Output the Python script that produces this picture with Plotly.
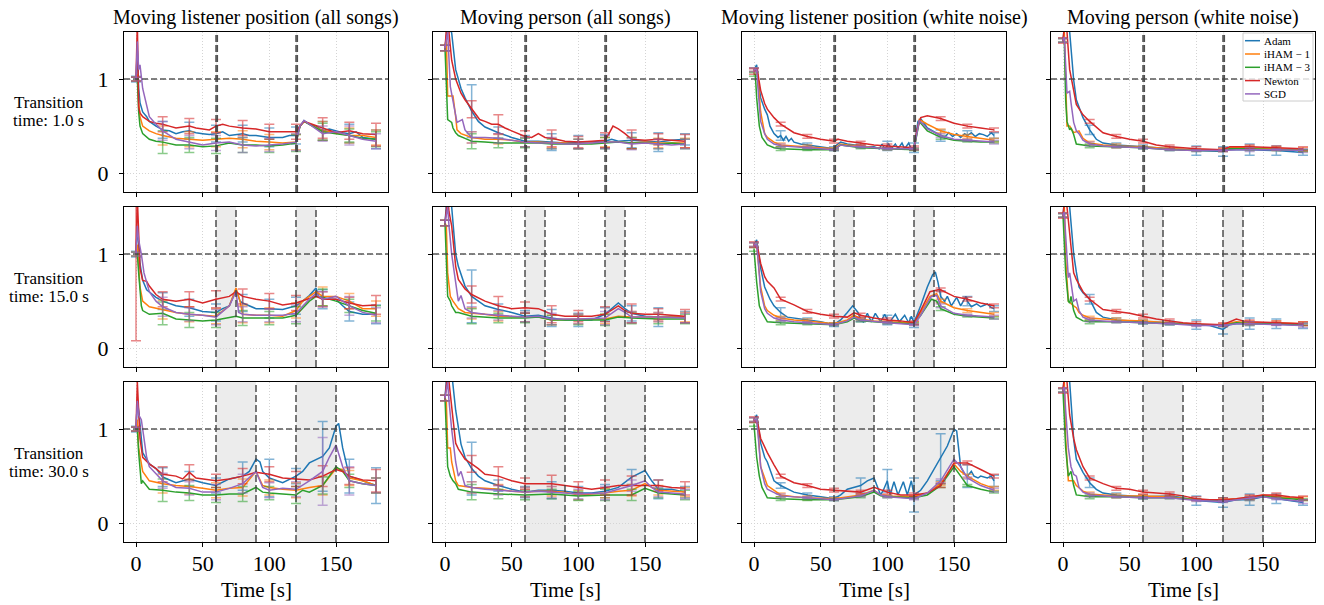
import numpy as np
import plotly.graph_objects as go

# ---------------- data ----------------
METHODS = ["Adam", "iHAM \u2212 1", "iHAM \u2212 3", "Newton", "SGD"]
COLORS = ["#1f77b4", "#ff7f0e", "#2ca02c", "#d62728", "#9467bd"]
ERR_COLORS = ["rgba(31,119,180,0.55)", "rgba(255,127,14,0.55)", "rgba(44,160,44,0.55)",
              "rgba(214,39,40,0.55)", "rgba(148,103,189,0.55)"]
COL_TITLES = ["Moving listener position (all songs)", "Moving person (all songs)",
              "Moving listener position (white noise)", "Moving person (white noise)"]
ROW_LABELS = [("Transition", "time: 1.0 s"), ("Transition", "time: 15.0 s"), ("Transition", "time: 30.0 s")]
TRANSITION = [1.0, 15.0, 30.0]
CHANGE_TIMES = [60, 120]
ERR_TIMES = [0, 20, 40, 60, 80, 100, 120, 140, 160, 180]
X_TICKS = [0, 50, 100, 150]
Y_TICKS = [0, 1]

# (time [s], value) pairs per method, one dict per panel
LP_SONGS_1 = {
    "Adam": [(0,1.0),(1,1.3),(2,0.9),(3,0.75),(5,0.65),(8,0.6),(10,0.55),(15,0.5),(20,0.46),(25,0.45),(30,0.42),(35,0.44),(40,0.45),(45,0.43),(50,0.42),(55,0.41),(60,0.42),(65,0.44),(70,0.4),(75,0.41),(80,0.42),(85,0.4),(90,0.4),(95,0.39),(100,0.38),(110,0.38),(115,0.4),(120,0.4),(123,0.5),(126,0.56),(130,0.52),(135,0.5),(140,0.45),(145,0.47),(150,0.45),(155,0.43),(160,0.42),(165,0.44),(170,0.38),(175,0.37),(180,0.36)],
    "iHAM1": [(0,1.0),(1,1.05),(2,0.75),(3,0.6),(5,0.5),(8,0.47),(10,0.45),(15,0.42),(20,0.4),(30,0.37),(40,0.36),(50,0.35),(60,0.36),(70,0.37),(80,0.36),(90,0.34),(100,0.33),(110,0.32),(120,0.33),(123,0.5),(126,0.55),(130,0.52),(140,0.45),(150,0.43),(160,0.4),(170,0.4),(180,0.38)],
    "iHAM3": [(0,1.0),(1,1.0),(2,0.65),(3,0.5),(5,0.42),(8,0.38),(10,0.36),(15,0.34),(20,0.33),(30,0.3),(40,0.3),(50,0.28),(60,0.29),(70,0.32),(80,0.3),(90,0.3),(100,0.29),(110,0.3),(120,0.32),(123,0.5),(126,0.55),(130,0.52),(140,0.44),(150,0.42),(160,0.4),(170,0.37),(180,0.36)],
    "Newton": [(0,1.0),(1,1.6),(2,0.7),(3,0.64),(5,0.6),(8,0.57),(10,0.55),(15,0.53),(20,0.52),(25,0.5),(30,0.48),(35,0.49),(40,0.5),(45,0.48),(50,0.47),(55,0.46),(60,0.5),(65,0.52),(70,0.5),(75,0.49),(80,0.48),(90,0.47),(100,0.44),(110,0.44),(120,0.44),(123,0.5),(126,0.55),(130,0.53),(140,0.48),(145,0.46),(150,0.43),(160,0.45),(170,0.42),(180,0.41)],
    "SGD": [(0,1.0),(1,1.4),(2,1.1),(3,1.15),(5,0.9),(8,0.7),(10,0.6),(15,0.52),(20,0.45),(30,0.36),(40,0.33),(50,0.3),(60,0.32),(70,0.33),(80,0.3),(90,0.29),(100,0.3),(110,0.31),(120,0.33),(123,0.5),(126,0.56),(130,0.52),(140,0.42),(150,0.44),(160,0.4),(170,0.36),(180,0.34)],
}
MP_SONGS_1 = {
    "Adam": [(0,1.33),(2,1.6),(5,1.49),(8,1.1),(12,0.9),(15,0.8),(20,0.66),(25,0.55),(30,0.49),(40,0.43),(50,0.38),(60,0.34),(70,0.34),(80,0.33),(90,0.32),(100,0.33),(110,0.33),(120,0.34),(125,0.36),(130,0.34),(140,0.35),(150,0.34),(160,0.33),(170,0.35),(180,0.36)],
    "iHAM1": [(0,1.33),(1,1.45),(2,0.82),(6,0.82),(8,0.6),(9,0.46),(12,0.42),(20,0.38),(30,0.36),(40,0.36),(50,0.35),(60,0.33),(70,0.33),(80,0.32),(90,0.32),(100,0.31),(110,0.32),(120,0.33),(130,0.33),(140,0.32),(150,0.33),(160,0.32),(170,0.32),(180,0.32)],
    "iHAM3": [(0,1.33),(1,0.92),(2,0.57),(5,0.54),(6,0.48),(8,0.43),(10,0.4),(15,0.37),(20,0.34),(30,0.33),(40,0.32),(50,0.32),(60,0.32),(70,0.32),(80,0.31),(90,0.31),(100,0.31),(110,0.31),(120,0.32),(130,0.33),(140,0.32),(150,0.32),(160,0.31),(170,0.32),(180,0.31)],
    "Newton": [(0,1.33),(2,1.7),(3,1.49),(5,1.2),(8,1.0),(12,0.85),(15,0.78),(20,0.68),(26,0.57),(30,0.55),(35,0.52),(40,0.52),(45,0.48),(50,0.45),(55,0.42),(60,0.39),(65,0.38),(70,0.42),(75,0.38),(80,0.37),(90,0.34),(100,0.33),(110,0.34),(120,0.35),(123,0.42),(126,0.5),(130,0.47),(135,0.42),(140,0.36),(150,0.35),(160,0.36),(170,0.35),(180,0.34)],
    "SGD": [(0,1.33),(2,1.5),(4,0.92),(7,0.7),(9,0.54),(13,0.57),(15,0.46),(20,0.38),(30,0.38),(40,0.37),(50,0.35),(60,0.33),(70,0.32),(80,0.32),(90,0.31),(100,0.31),(110,0.32),(120,0.33),(130,0.33),(140,0.31),(150,0.32),(160,0.31),(170,0.3),(180,0.31)],
}
LP_WN_1 = {
    "Adam": [(0,1.1),(1,1.12),(2,1.15),(3,1.0),(5,0.8),(8,0.68),(10,0.62),(12,0.5),(15,0.42),(18,0.38),(20,0.4),(22,0.35),(24,0.39),(26,0.34),(28,0.37),(30,0.33),(35,0.31),(40,0.3),(45,0.29),(50,0.28),(55,0.27),(60,0.26),(62,0.3),(65,0.33),(70,0.31),(75,0.3),(80,0.29),(85,0.28),(90,0.28),(94,0.26),(96,0.31),(98,0.26),(100,0.29),(101,0.31),(103,0.26),(106,0.31),(108,0.26),(111,0.32),(113,0.26),(116,0.32),(118,0.26),(120,0.27),(123,0.55),(125,0.58),(128,0.52),(130,0.48),(135,0.44),(138,0.42),(140,0.4),(143,0.38),(146,0.43),(149,0.39),(152,0.42),(155,0.38),(158,0.42),(160,0.4),(163,0.43),(166,0.39),(169,0.42),(172,0.41),(175,0.39),(178,0.43),(180,0.4)],
    "iHAM1": [(0,1.1),(2,1.1),(3,1.0),(5,0.65),(8,0.42),(10,0.38),(15,0.33),(20,0.3),(30,0.29),(40,0.28),(50,0.27),(60,0.26),(65,0.31),(70,0.3),(80,0.29),(90,0.27),(100,0.26),(110,0.26),(120,0.26),(124,0.57),(130,0.52),(140,0.45),(150,0.41),(160,0.39),(170,0.37),(180,0.35)],
    "iHAM3": [(0,1.05),(1,1.05),(2,0.8),(4,0.5),(6,0.38),(10,0.3),(15,0.27),(20,0.26),(40,0.25),(60,0.25),(65,0.3),(70,0.29),(80,0.27),(100,0.26),(120,0.25),(124,0.55),(130,0.45),(140,0.38),(150,0.35),(160,0.34),(170,0.33),(180,0.33)],
    "Newton": [(0,1.08),(2,1.1),(3,1.05),(5,0.88),(8,0.74),(10,0.68),(15,0.59),(20,0.52),(30,0.43),(40,0.39),(50,0.36),(60,0.34),(63,0.36),(70,0.34),(80,0.32),(90,0.3),(100,0.29),(110,0.28),(120,0.27),(122,0.45),(125,0.59),(130,0.61),(140,0.58),(150,0.53),(160,0.5),(170,0.48),(180,0.46)],
    "SGD": [(0,1.1),(2,1.1),(3,0.9),(5,0.55),(8,0.42),(10,0.36),(15,0.31),(20,0.29),(40,0.27),(60,0.25),(65,0.3),(70,0.29),(80,0.28),(100,0.26),(120,0.26),(124,0.56),(130,0.47),(140,0.4),(150,0.36),(160,0.35),(170,0.34),(180,0.33)],
}
MP_WN_1 = {
    "Adam": [(0,1.41),(2,1.7),(5,1.5),(8,0.99),(10,0.78),(15,0.59),(20,0.46),(25,0.36),(30,0.32),(40,0.3),(60,0.28),(80,0.26),(100,0.24),(120,0.23),(125,0.25),(140,0.25),(160,0.24),(180,0.22)],
    "iHAM1": [(0,1.41),(1,1.5),(2,1.0),(3,0.5),(5,0.5),(8,0.43),(12,0.45),(15,0.37),(20,0.32),(30,0.3),(40,0.29),(60,0.28),(80,0.26),(100,0.25),(120,0.25),(125,0.27),(140,0.27),(160,0.26),(180,0.25)],
    "iHAM3": [(0,1.41),(1,1.4),(2,0.78),(3,0.55),(5,0.46),(6,0.48),(8,0.41),(10,0.31),(20,0.29),(40,0.28),(60,0.27),(80,0.25),(100,0.24),(120,0.24),(125,0.26),(140,0.26),(160,0.25),(180,0.24)],
    "Newton": [(0,1.41),(2,1.7),(3,1.5),(5,1.1),(8,0.88),(10,0.73),(15,0.62),(20,0.55),(30,0.43),(40,0.39),(50,0.36),(60,0.34),(70,0.3),(80,0.28),(90,0.27),(100,0.26),(120,0.25),(125,0.28),(140,0.28),(160,0.27),(180,0.26)],
    "SGD": [(0,1.41),(1,1.45),(3,0.85),(5,0.87),(6,0.75),(8,0.54),(10,0.45),(12,0.42),(15,0.35),(20,0.31),(30,0.29),(40,0.28),(60,0.27),(80,0.25),(100,0.24),(120,0.24),(130,0.25),(140,0.25),(160,0.25),(180,0.24)],
}
LP_SONGS_15 = {
    "Adam": [(0,1.0),(1,1.3),(3,0.9),(5,0.72),(8,0.62),(10,0.6),(15,0.54),(20,0.5),(30,0.45),(40,0.43),(50,0.39),(60,0.38),(65,0.42),(70,0.45),(75,0.62),(78,0.5),(80,0.48),(90,0.42),(100,0.42),(110,0.41),(120,0.45),(125,0.5),(130,0.56),(135,0.64),(137,0.55),(140,0.52),(150,0.52),(155,0.45),(160,0.39),(170,0.36),(180,0.36)],
    "iHAM1": [(0,1.0),(1,1.1),(3,0.65),(5,0.5),(10,0.44),(20,0.41),(30,0.38),(40,0.36),(50,0.35),(60,0.34),(70,0.45),(75,0.64),(78,0.5),(80,0.36),(90,0.35),(100,0.35),(110,0.34),(120,0.4),(125,0.5),(135,0.6),(140,0.55),(150,0.55),(160,0.5),(170,0.42),(180,0.42)],
    "iHAM3": [(0,1.0),(1,1.0),(2,0.8),(4,0.45),(5,0.4),(10,0.36),(20,0.37),(30,0.31),(40,0.3),(50,0.29),(60,0.3),(70,0.33),(75,0.34),(80,0.32),(90,0.32),(100,0.32),(110,0.32),(120,0.35),(130,0.5),(135,0.55),(140,0.54),(150,0.5),(160,0.45),(170,0.4),(180,0.37)],
    "Newton": [(0,1.0),(1,1.6),(3,0.85),(5,0.72),(8,0.71),(10,0.66),(15,0.57),(20,0.52),(30,0.5),(40,0.52),(50,0.48),(60,0.52),(70,0.55),(75,0.6),(80,0.55),(90,0.52),(100,0.5),(110,0.46),(120,0.48),(130,0.53),(135,0.55),(140,0.52),(150,0.52),(160,0.48),(170,0.45),(180,0.46)],
    "SGD": [(0,1.0),(1,1.3),(2,1.15),(4,1.0),(6,0.8),(10,0.6),(15,0.5),(20,0.44),(30,0.38),(40,0.36),(50,0.35),(60,0.33),(70,0.45),(75,0.6),(77,0.38),(80,0.36),(90,0.35),(100,0.35),(110,0.35),(120,0.37),(130,0.52),(135,0.58),(140,0.52),(150,0.55),(160,0.45),(170,0.38),(180,0.35)],
}
MP_SONGS_15 = {
    "Adam": [(0,1.33),(2,1.7),(5,1.5),(8,1.0),(10,0.87),(15,0.66),(20,0.55),(30,0.45),(40,0.41),(50,0.38),(60,0.34),(70,0.35),(80,0.32),(90,0.3),(100,0.3),(110,0.3),(120,0.36),(125,0.42),(130,0.48),(135,0.42),(140,0.37),(150,0.34),(160,0.33),(170,0.34),(180,0.33)],
    "iHAM1": [(0,1.33),(1,1.3),(2,0.8),(4,0.55),(6,0.5),(10,0.42),(15,0.38),(20,0.37),(30,0.36),(40,0.34),(60,0.33),(70,0.33),(80,0.3),(100,0.31),(120,0.31),(130,0.34),(140,0.33),(160,0.33),(180,0.33)],
    "iHAM3": [(0,1.33),(1,1.0),(2,0.55),(4,0.5),(5,0.45),(8,0.38),(10,0.38),(20,0.34),(40,0.32),(60,0.32),(70,0.33),(80,0.3),(100,0.3),(120,0.3),(130,0.33),(140,0.32),(160,0.31),(180,0.31)],
    "Newton": [(0,1.33),(2,1.6),(3,1.45),(5,1.3),(8,0.87),(10,0.73),(15,0.63),(20,0.57),(30,0.5),(40,0.45),(50,0.42),(60,0.43),(70,0.42),(80,0.36),(90,0.34),(100,0.34),(110,0.34),(120,0.36),(130,0.45),(135,0.4),(140,0.37),(150,0.36),(160,0.36),(170,0.35),(180,0.34)],
    "SGD": [(0,1.33),(2,1.5),(3,1.3),(5,1.0),(8,0.7),(10,0.5),(12,0.56),(15,0.42),(20,0.38),(30,0.36),(40,0.35),(60,0.33),(70,0.34),(80,0.31),(100,0.31),(120,0.32),(130,0.42),(135,0.38),(140,0.33),(160,0.33),(180,0.32)],
}
LP_WN_15 = {
    "Adam": [(0,1.1),(2,1.15),(3,1.05),(5,0.85),(8,0.65),(10,0.58),(12,0.52),(15,0.45),(20,0.38),(25,0.33),(30,0.32),(40,0.3),(50,0.28),(60,0.25),(65,0.3),(70,0.38),(74,0.45),(78,0.38),(80,0.3),(82,0.28),(85,0.37),(88,0.28),(91,0.37),(95,0.28),(98,0.36),(100,0.3),(102,0.28),(106,0.36),(109,0.28),(113,0.35),(116,0.27),(118,0.34),(120,0.27),(125,0.45),(130,0.65),(134,0.78),(136,0.81),(138,0.7),(140,0.55),(143,0.5),(145,0.55),(148,0.45),(152,0.54),(155,0.45),(159,0.55),(160,0.5),(163,0.44),(167,0.47),(170,0.44),(175,0.47),(178,0.43),(180,0.42)],
    "iHAM1": [(0,1.1),(2,1.1),(3,0.95),(5,0.65),(8,0.45),(10,0.4),(15,0.35),(20,0.32),(30,0.3),(40,0.29),(60,0.26),(70,0.3),(75,0.35),(80,0.31),(90,0.29),(100,0.28),(120,0.27),(125,0.38),(132,0.55),(137,0.58),(140,0.5),(150,0.43),(160,0.4),(170,0.38),(180,0.36)],
    "iHAM3": [(0,1.05),(2,0.7),(4,0.45),(6,0.38),(10,0.28),(20,0.27),(40,0.26),(60,0.25),(70,0.28),(75,0.32),(80,0.29),(100,0.27),(120,0.26),(125,0.35),(133,0.52),(137,0.5),(140,0.42),(150,0.36),(160,0.34),(180,0.32)],
    "Newton": [(0,1.1),(3,1.05),(5,0.9),(8,0.76),(10,0.71),(15,0.64),(20,0.52),(30,0.46),(40,0.39),(50,0.36),(60,0.34),(70,0.33),(75,0.375),(80,0.35),(90,0.32),(100,0.3),(110,0.29),(120,0.27),(125,0.4),(132,0.6),(138,0.62),(140,0.62),(150,0.55),(160,0.52),(170,0.48),(180,0.45)],
    "SGD": [(0,1.1),(2,1.1),(3,0.95),(5,0.6),(8,0.42),(10,0.37),(15,0.32),(20,0.3),(30,0.28),(40,0.27),(60,0.25),(70,0.29),(75,0.33),(80,0.3),(100,0.27),(120,0.25),(125,0.35),(133,0.55),(137,0.56),(140,0.45),(150,0.37),(160,0.35),(180,0.33)],
}
MP_WN_15 = {
    "Adam": [(0,1.41),(2,1.7),(5,1.5),(8,1.0),(10,0.81),(12,0.65),(15,0.59),(20,0.52),(25,0.38),(30,0.33),(40,0.3),(60,0.28),(80,0.27),(100,0.25),(110,0.24),(120,0.2),(125,0.25),(130,0.26),(140,0.26),(160,0.26),(180,0.24)],
    "iHAM1": [(0,1.41),(1,1.5),(2,0.95),(4,0.5),(8,0.45),(10,0.43),(12,0.38),(15,0.35),(20,0.32),(30,0.31),(40,0.3),(60,0.29),(80,0.27),(100,0.25),(120,0.25),(130,0.28),(140,0.27),(160,0.27),(180,0.26)],
    "iHAM3": [(0,1.41),(1,1.1),(2,0.8),(4,0.5),(5,0.48),(6,0.55),(8,0.4),(10,0.33),(15,0.29),(20,0.28),(40,0.28),(60,0.27),(80,0.26),(100,0.25),(120,0.24),(130,0.27),(140,0.26),(160,0.26),(180,0.25)],
    "Newton": [(0,1.41),(2,1.7),(3,1.5),(5,1.2),(8,0.8),(10,0.73),(15,0.6),(20,0.52),(30,0.41),(40,0.39),(50,0.37),(60,0.34),(70,0.31),(80,0.29),(90,0.27),(100,0.26),(120,0.25),(130,0.31),(135,0.29),(140,0.28),(160,0.27),(180,0.26)],
    "SGD": [(0,1.41),(1,1.45),(2,1.2),(4,0.75),(5,0.8),(7,0.62),(8,0.5),(10,0.52),(12,0.4),(15,0.33),(20,0.3),(30,0.29),(40,0.28),(60,0.27),(80,0.26),(100,0.24),(120,0.24),(130,0.26),(140,0.26),(160,0.25),(180,0.24)],
}
LP_SONGS_30 = {
    "Adam": [(0,1.0),(1,1.3),(2,1.2),(5,0.75),(10,0.63),(15,0.58),(20,0.49),(30,0.43),(40,0.47),(50,0.43),(60,0.4),(70,0.47),(80,0.5),(85,0.55),(90,0.68),(93,0.65),(95,0.55),(100,0.48),(110,0.43),(120,0.5),(125,0.55),(130,0.64),(140,0.71),(145,0.8),(150,1.03),(152,1.06),(155,0.8),(160,0.5),(170,0.45),(180,0.4)],
    "iHAM1": [(0,1.0),(1,1.1),(2,0.8),(5,0.55),(10,0.45),(20,0.42),(30,0.4),(40,0.39),(50,0.37),(60,0.35),(70,0.37),(80,0.38),(90,0.55),(95,0.4),(100,0.38),(110,0.36),(120,0.35),(130,0.38),(140,0.4),(150,0.58),(155,0.57),(160,0.48),(170,0.45),(180,0.4)],
    "iHAM3": [(0,1.0),(1,1.0),(2,0.75),(4,0.42),(5,0.45),(10,0.36),(20,0.35),(30,0.33),(40,0.32),(50,0.3),(60,0.3),(70,0.31),(80,0.31),(90,0.38),(95,0.33),(100,0.32),(110,0.31),(120,0.3),(125,0.35),(130,0.33),(140,0.4),(150,0.6),(155,0.55),(160,0.45),(170,0.42),(180,0.4)],
    "Newton": [(0,1.0),(1,1.5),(3,0.9),(5,0.7),(10,0.63),(15,0.58),(20,0.52),(30,0.5),(35,0.47),(40,0.54),(45,0.48),(50,0.47),(60,0.45),(70,0.47),(80,0.5),(90,0.54),(100,0.52),(110,0.48),(120,0.47),(130,0.46),(140,0.5),(150,0.57),(155,0.55),(160,0.5),(170,0.46),(180,0.45)],
    "SGD": [(0,1.0),(1,1.3),(2,1.15),(4,1.1),(6,0.9),(8,0.7),(10,0.6),(15,0.52),(20,0.45),(30,0.38),(40,0.37),(50,0.33),(60,0.33),(70,0.37),(80,0.42),(90,0.55),(95,0.38),(100,0.35),(110,0.37),(120,0.36),(130,0.45),(140,0.55),(145,0.7),(150,0.83),(155,0.6),(160,0.45),(170,0.42),(180,0.4)],
}
MP_SONGS_30 = {
    "Adam": [(0,1.33),(2,1.7),(5,1.6),(8,1.2),(10,1.02),(12,0.84),(15,0.7),(20,0.58),(25,0.5),(30,0.45),(40,0.4),(50,0.36),(60,0.33),(70,0.35),(80,0.35),(90,0.34),(100,0.32),(110,0.32),(120,0.34),(130,0.38),(140,0.49),(150,0.56),(155,0.45),(160,0.36),(170,0.36),(180,0.33)],
    "iHAM1": [(0,1.33),(1,1.3),(2,0.8),(4,0.8),(5,0.65),(8,0.45),(10,0.4),(20,0.38),(30,0.37),(40,0.36),(50,0.34),(60,0.33),(70,0.34),(80,0.34),(90,0.33),(100,0.3),(120,0.32),(130,0.34),(140,0.35),(150,0.42),(155,0.38),(160,0.35),(180,0.33)],
    "iHAM3": [(0,1.33),(1,1.0),(2,0.6),(4,0.5),(6,0.45),(8,0.42),(10,0.36),(20,0.33),(30,0.32),(40,0.31),(60,0.3),(80,0.31),(100,0.29),(120,0.3),(140,0.3),(150,0.37),(160,0.32),(180,0.3)],
    "Newton": [(0,1.33),(2,1.6),(3,1.5),(5,1.25),(8,0.85),(10,0.79),(15,0.68),(20,0.63),(25,0.58),(30,0.52),(40,0.5),(50,0.45),(60,0.42),(70,0.42),(80,0.42),(90,0.4),(100,0.38),(110,0.36),(120,0.38),(130,0.4),(140,0.4),(150,0.4),(160,0.4),(170,0.38),(180,0.37)],
    "SGD": [(0,1.33),(2,1.5),(3,1.3),(5,1.0),(8,0.65),(10,0.5),(12,0.55),(15,0.4),(20,0.38),(30,0.36),(40,0.35),(60,0.33),(70,0.34),(80,0.33),(100,0.31),(120,0.32),(130,0.36),(140,0.4),(150,0.45),(155,0.38),(160,0.33),(180,0.31)],
}
LP_WN_30 = {
    "Adam": [(0,1.1),(2,1.15),(3,1.05),(5,0.85),(8,0.7),(10,0.65),(15,0.45),(20,0.4),(30,0.33),(40,0.3),(50,0.28),(60,0.26),(65,0.3),(70,0.36),(80,0.4),(85,0.45),(90,0.48),(93,0.38),(95,0.3),(97,0.35),(100,0.45),(102,0.3),(105,0.44),(108,0.3),(112,0.44),(115,0.3),(118,0.45),(120,0.3),(125,0.35),(130,0.45),(140,0.7),(145,0.82),(150,1.0),(152,0.98),(155,0.6),(158,0.52),(160,0.5),(163,0.55),(165,0.5),(168,0.48),(170,0.5),(175,0.48),(178,0.5),(180,0.45)],
    "iHAM1": [(0,1.1),(2,1.1),(3,1.0),(5,0.6),(10,0.4),(15,0.35),(20,0.3),(30,0.28),(40,0.27),(60,0.26),(70,0.28),(80,0.3),(90,0.35),(95,0.3),(100,0.29),(120,0.28),(130,0.32),(140,0.42),(150,0.63),(155,0.55),(160,0.5),(170,0.42),(180,0.37)],
    "iHAM3": [(0,1.05),(2,0.7),(4,0.5),(6,0.38),(10,0.27),(20,0.26),(40,0.25),(60,0.25),(80,0.28),(90,0.33),(95,0.29),(100,0.28),(120,0.27),(130,0.3),(140,0.4),(150,0.6),(155,0.5),(160,0.4),(170,0.36),(180,0.33)],
    "Newton": [(0,1.1),(3,1.05),(5,0.9),(10,0.75),(15,0.62),(20,0.5),(30,0.43),(40,0.4),(50,0.36),(60,0.35),(70,0.34),(80,0.33),(90,0.38),(100,0.33),(110,0.3),(120,0.3),(130,0.32),(140,0.4),(150,0.64),(160,0.64),(170,0.57),(180,0.5)],
    "SGD": [(0,1.1),(2,1.1),(3,0.95),(5,0.6),(8,0.42),(10,0.36),(20,0.29),(40,0.27),(60,0.25),(80,0.29),(90,0.35),(95,0.3),(100,0.28),(120,0.26),(130,0.32),(140,0.45),(150,0.68),(155,0.6),(160,0.48),(170,0.4),(180,0.35)],
}
MP_WN_30 = {
    "Adam": [(0,1.41),(2,1.7),(5,1.5),(8,0.89),(10,0.68),(15,0.54),(20,0.43),(25,0.36),(30,0.32),(40,0.3),(60,0.28),(80,0.29),(85,0.28),(90,0.27),(100,0.24),(120,0.22),(130,0.25),(140,0.25),(150,0.28),(160,0.26),(180,0.22)],
    "iHAM1": [(0,1.41),(1,1.5),(2,0.9),(4,0.45),(8,0.45),(10,0.4),(15,0.34),(20,0.31),(40,0.29),(60,0.29),(80,0.28),(100,0.25),(120,0.25),(130,0.26),(140,0.27),(150,0.3),(160,0.28),(180,0.26)],
    "iHAM3": [(0,1.41),(1,1.1),(2,0.8),(4,0.5),(6,0.55),(8,0.4),(10,0.3),(20,0.28),(40,0.28),(60,0.27),(80,0.27),(100,0.25),(120,0.24),(140,0.26),(150,0.29),(160,0.27),(180,0.25)],
    "Newton": [(0,1.41),(2,1.7),(3,1.5),(5,1.15),(8,0.9),(10,0.78),(15,0.6),(20,0.48),(30,0.42),(40,0.37),(50,0.36),(60,0.33),(70,0.32),(80,0.31),(90,0.29),(100,0.26),(110,0.25),(120,0.25),(130,0.26),(140,0.28),(150,0.3),(160,0.3),(170,0.28),(180,0.27)],
    "SGD": [(0,1.41),(1,1.45),(2,1.2),(4,0.8),(6,0.6),(8,0.52),(10,0.5),(12,0.38),(15,0.33),(20,0.3),(40,0.28),(60,0.27),(80,0.27),(100,0.24),(120,0.23),(140,0.26),(150,0.28),(160,0.26),(180,0.23)],
}

# error-bar half widths at ERR_TIMES
ERR_SONGS_LP = {
    "Adam":   [0.03,0.09,0.09,0.09,0.09,0.10,0.09,0.10,0.10,0.10],
    "iHAM1":  [0.02,0.10,0.08,0.08,0.09,0.08,0.08,0.10,0.08,0.08],
    "iHAM3":  [0.02,0.12,0.08,0.08,0.08,0.07,0.09,0.09,0.07,0.08],
    "Newton": [0.02,0.08,0.08,0.07,0.08,0.08,0.08,0.11,0.09,0.12],
    "SGD":    [0.02,0.10,0.07,0.08,0.08,0.07,0.09,0.08,0.10,0.08],
}
ERR_SONGS_MP = {
    "Adam":   [0.03,0.28,0.06,0.06,0.09,0.07,0.07,0.08,0.10,0.06],
    "iHAM1":  [0.03,0.06,0.05,0.05,0.05,0.05,0.05,0.06,0.05,0.05],
    "iHAM3":  [0.03,0.08,0.05,0.05,0.05,0.05,0.06,0.06,0.05,0.05],
    "Newton": [0.03,0.09,0.10,0.06,0.09,0.06,0.08,0.10,0.06,0.07],
    "SGD":    [0.03,0.06,0.05,0.05,0.06,0.05,0.07,0.06,0.05,0.05],
}
ERR_WN = {
    "Adam":   [0.02,0.05,0.02,0.02,0.02,0.05,0.05,0.06,0.05,0.03],
    "iHAM1":  [0.02,0.02,0.02,0.01,0.01,0.01,0.01,0.02,0.02,0.02],
    "iHAM3":  [0.02,0.02,0.01,0.01,0.01,0.01,0.01,0.02,0.01,0.01],
    "Newton": [0.03,0.02,0.02,0.02,0.02,0.02,0.02,0.02,0.02,0.02],
    "SGD":    [0.02,0.02,0.01,0.01,0.01,0.01,0.01,0.02,0.01,0.02],
}
ERR_SONGS_LP_15 = dict(ERR_SONGS_LP, Newton=[0.92,0.08,0.08,0.09,0.08,0.08,0.08,0.08,0.06,0.1])
ERR_SONGS_LP_30 = dict(ERR_SONGS_LP,
    Adam=[0.03,0.1,0.08,0.08,0.15,0.2,0.08,0.37,0.18,0.19],
    SGD=[0.02,0.08,0.07,0.08,0.1,0.08,0.08,0.36,0.15,0.08])
ERR_WN_30 = dict(ERR_WN, Adam=[0.02,0.03,0.02,0.02,0.08,0.12,0.18,0.25,0.12,0.06])

PANELS = [[LP_SONGS_1, MP_SONGS_1, LP_WN_1, MP_WN_1],
          [LP_SONGS_15, MP_SONGS_15, LP_WN_15, MP_WN_15],
          [LP_SONGS_30, MP_SONGS_30, LP_WN_30, MP_WN_30]]
ERRS = [[ERR_SONGS_LP, ERR_SONGS_MP, ERR_WN, ERR_WN],
        [ERR_SONGS_LP_15, ERR_SONGS_MP, ERR_WN, ERR_WN],
        [ERR_SONGS_LP_30, ERR_SONGS_MP, ERR_WN_30, ERR_WN]]
KEYS = ["Adam", "iHAM1", "iHAM3", "Newton", "SGD"]

# ---------------- figure ----------------
W, H = 1324, 605
FONT = "Liberation Serif"
COL_PX = [(124, 388), (433, 697), (742, 1006), (1051, 1315)]
ROW_PX = [(32, 192), (207, 367), (382, 542)]

fig = go.Figure()
layout = {}
shapes = []
annotations = []

for r in range(3):
    for c in range(4):
        i = r * 4 + c + 1
        sfx = "" if i == 1 else str(i)
        xa, ya = "x" + sfx, "y" + sfx
        x0, x1 = COL_PX[c]
        y0, y1 = ROW_PX[r]
        common = dict(showline=True, linecolor="black", linewidth=1.2, mirror=True,
                      ticks="outside", ticklen=4, tickwidth=1, tickcolor="black",
                      showgrid=True, gridcolor="#d4d4d4", gridwidth=0.8, griddash="1px,2px",
                      zeroline=False, tickfont=dict(family=FONT, size=22, color="black"))
        layout["xaxis" + sfx] = dict(common, domain=[x0 / W, x1 / W], anchor=ya,
                                     range=[-9, 189], tickvals=X_TICKS,
                                     showticklabels=(r == 2), ticklabelstandoff=-3)
        layout["yaxis" + sfx] = dict(common, domain=[1 - y1 / H, 1 - y0 / H], anchor=xa,
                                     range=[-0.2, 1.5], tickvals=Y_TICKS,
                                     showticklabels=(c == 0), ticklabelstandoff=6)
        tw = TRANSITION[r]
        for ct in CHANGE_TIMES:
            shapes.append(dict(type="rect", xref=xa, yref=ya, x0=ct, x1=ct + tw, y0=-0.2, y1=1.5,
                               fillcolor="#ececec", line=dict(width=0), layer="below"))
            for xv in (ct, ct + tw):
                shapes.append(dict(type="line", xref=xa, yref=ya, x0=xv, x1=xv, y0=-0.2, y1=1.5,
                                   line=dict(color="rgba(60,60,60,0.9)", width=1.5, dash="7px,3px"),
                                   layer="above"))
        shapes.append(dict(type="line", xref=xa, yref=ya, x0=-9, x1=189, y0=1, y1=1,
                           line=dict(color="rgba(70,70,70,0.9)", width=1.4, dash="6px,3px"),
                           layer="above"))

        panel = PANELS[r][c]
        err = ERRS[r][c]
        for k, key in enumerate(KEYS):
            pts = panel[key]
            t = [p[0] for p in pts]
            v = [p[1] for p in pts]
            lookup = dict(pts)
            fig.add_trace(go.Scatter(x=t, y=v, mode="lines", xaxis=xa, yaxis=ya,
                                     line=dict(color=COLORS[k], width=1.5),
                                     name=METHODS[k], showlegend=False))
            ey = [lookup[tt] for tt in ERR_TIMES]
            fig.add_trace(go.Scatter(x=ERR_TIMES, y=ey, mode="markers", xaxis=xa, yaxis=ya,
                                     marker=dict(size=1, color="rgba(0,0,0,0)"),
                                     error_y=dict(type="data", array=err[key], color=ERR_COLORS[k],
                                                  thickness=1.5, width=5),
                                     showlegend=False, hoverinfo="skip"))

for c in range(4):
    x0, x1 = COL_PX[c]
    annotations.append(dict(text=COL_TITLES[c], x=(x0 + x1) / 2 / W, y=1 - 17 / H,
                            xref="paper", yref="paper", showarrow=False,
                            xanchor="center", yanchor="middle",
                            font=dict(family=FONT, size=20, color="black")))
    annotations.append(dict(text="Time [s]", x=(x0 + x1) / 2 / W, y=1 - 590 / H,
                            xref="paper", yref="paper", showarrow=False,
                            xanchor="center", yanchor="middle",
                            font=dict(family=FONT, size=21, color="black")))
for r in range(3):
    y0, y1 = ROW_PX[r]
    yc = (y0 + y1) / 2
    for j, line in enumerate(ROW_LABELS[r]):
        annotations.append(dict(text=line, x=49 / W, y=1 - (yc - 9 + 18 * j) / H,
                                xref="paper", yref="paper", showarrow=False,
                                xanchor="center", yanchor="middle",
                                font=dict(family=FONT, size=17, color="black")))

# legend (inside top-right panel), drawn as a frame with line samples and texts
LEG_X0, LEG_X1, LEG_Y0, LEG_Y1 = 1243, 1313, 33, 101
shapes.append(dict(type="rect", xref="paper", yref="paper",
                   x0=LEG_X0 / W, x1=LEG_X1 / W, y0=1 - LEG_Y1 / H, y1=1 - LEG_Y0 / H,
                   fillcolor="rgba(255,255,255,0.8)", line=dict(color="#cccccc", width=1),
                   layer="above"))
for k, name in enumerate(METHODS):
    yy = 1 - (40.7 + 13.3 * k) / H
    shapes.append(dict(type="line", xref="paper", yref="paper",
                       x0=1245 / W, x1=1260 / W, y0=yy, y1=yy,
                       line=dict(color=COLORS[k], width=1.5), layer="above"))
    annotations.append(dict(text=name, x=1262 / W, y=yy, xref="paper", yref="paper",
                            showarrow=False, xanchor="left", yanchor="middle",
                            font=dict(family=FONT, size=11, color="black")))

fig.update_layout(**layout)
fig.update_layout(
    width=W, height=H, margin=dict(l=0, r=0, t=0, b=0),
    paper_bgcolor="white", plot_bgcolor="white",
    shapes=shapes, annotations=annotations, showlegend=False,
)
fig.write_html("out.html", config={"displayModeBar": False},
               post_script="document.body.style.margin='0px';")
